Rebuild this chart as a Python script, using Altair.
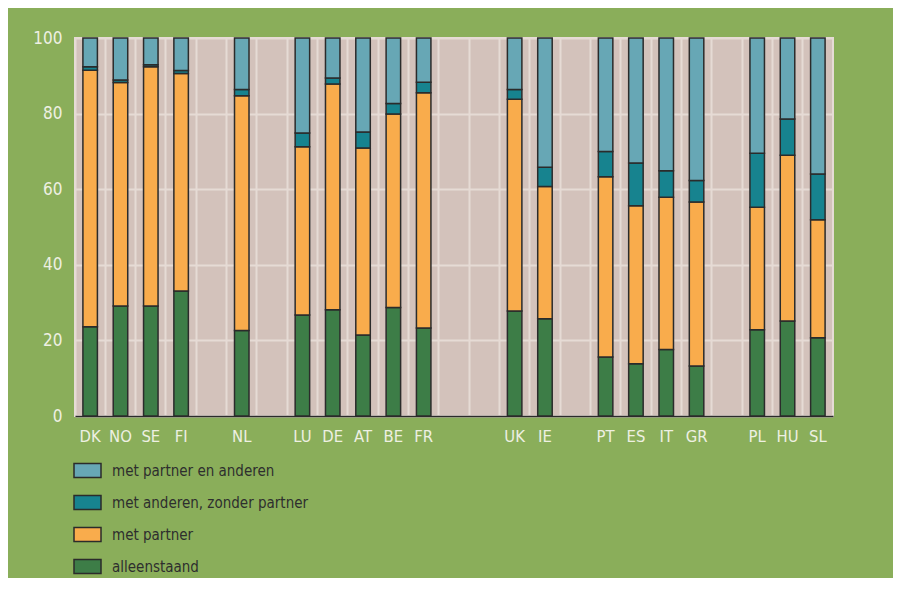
import altair as alt
import pandas as pd

# Slots along the x axis (entries starting with "_" are empty gaps between country groups)
x_slots = ["DK", "NO", "SE", "FI", "_1", "NL", "_2", "LU", "DE", "AT", "BE", "FR", "_3", "_4",
           "UK", "IE", "_5", "PT", "ES", "IT", "GR", "_6", "PL", "HU", "SL"]

countries = ["DK", "NO", "SE", "FI", "NL", "LU", "DE", "AT", "BE", "FR",
             "UK", "IE", "PT", "ES", "IT", "GR", "PL", "HU", "SL"]

alleenstaand = [23.6, 29.1, 29.1, 33.1, 22.6, 26.7, 28.1, 21.4, 28.7, 23.3,
                27.8, 25.7, 15.6, 13.8, 17.6, 13.2, 22.8, 25.1, 20.7]
met_partner = [67.9, 59.1, 63.3, 57.5, 62.1, 44.5, 59.7, 49.5, 51.2, 62.2,
               56.0, 35.0, 47.7, 41.8, 40.3, 43.4, 32.4, 43.9, 31.2]
met_anderen_zonder_partner = [0.9, 0.7, 0.5, 0.8, 1.7, 3.7, 1.6, 4.2, 2.8, 2.8,
                              2.6, 5.1, 6.7, 11.3, 7.0, 5.7, 14.3, 9.6, 12.1]
met_partner_en_anderen = [7.6, 11.1, 7.1, 8.6, 13.6, 25.1, 10.6, 24.9, 17.3, 11.7,
                          13.6, 34.2, 30.0, 33.1, 35.1, 37.7, 30.5, 21.4, 36.0]

categories = ["alleenstaand", "met partner", "met anderen, zonder partner", "met partner en anderen"]
series = [alleenstaand, met_partner, met_anderen_zonder_partner, met_partner_en_anderen]
legend_order = ["met partner en anderen", "met anderen, zonder partner", "met partner", "alleenstaand"]
legend_colors = ["#67a7b5", "#17838f", "#f9ac4c", "#3d7d47"]

rows = []
for k, (cat, vals) in enumerate(zip(categories, series)):
    for c, v in zip(countries, vals):
        rows.append({"land": c, "categorie": cat, "waarde": v, "volgorde": k})
df = pd.DataFrame(rows)

label_font = "DejaVu Sans Condensed, Liberation Sans"
grid_color = "#e6dbd5"

chart = alt.Chart(df).mark_bar(size=14.5, stroke="#2b2b2b", strokeWidth=1.5).encode(
    x=alt.X("land:N", sort=x_slots,
            scale=alt.Scale(domain=x_slots, paddingInner=0, paddingOuter=0),
            axis=alt.Axis(title=None, labelAngle=0, ticks=False, grid=True, bandPosition=0,
                          gridColor=grid_color, gridWidth=2, gridOpacity=1,
                          domainColor="#2b2b2b", domainWidth=1.5,
                          labelExpr="indexof(datum.value, '_') == 0 ? '' : datum.value",
                          labelFont=label_font, labelFontSize=16.5, labelColor="#eef0e2",
                          labelPadding=12)),
    y=alt.Y("waarde:Q", stack="zero",
            scale=alt.Scale(domain=[0, 100], nice=False),
            axis=alt.Axis(title=None, values=[0, 20, 40, 60, 80, 100], domain=False, ticks=False,
                          gridColor=grid_color, gridWidth=2, gridOpacity=1,
                          labelFont=label_font, labelFontSize=17, labelColor="#eef0e2",
                          labelPadding=13)),
    color=alt.Color("categorie:N",
                    scale=alt.Scale(domain=legend_order, range=legend_colors),
                    legend=alt.Legend(orient="none", legendX=-2, legendY=418, direction="vertical",
                                      title=None, padding=0,
                                      symbolType="M-1,-0.52L1,-0.52L1,0.52L-1,0.52Z",
                                      symbolSize=729, symbolStrokeColor="#2b2b2b",
                                      symbolStrokeWidth=1.5, symbolOpacity=1,
                                      labelFont=label_font, labelFontSize=15, labelLimit=400,
                                      labelColor="#2e2e2e", labelOffset=10,
                                      rowPadding=7)),
    order=alt.Order("volgorde:Q", sort="ascending"),
).properties(
    width=758, height=378,
    padding={"left": 67, "top": 30, "right": 60, "bottom": 162},
    autosize=alt.AutoSizeParams(type="none"),
    background="#8aae5a",
).configure_view(
    fill="#d3c2bb", stroke=grid_color, strokeWidth=2
)

chart.save("out.html", embed_options={"renderer": "svg", "actions": False})
